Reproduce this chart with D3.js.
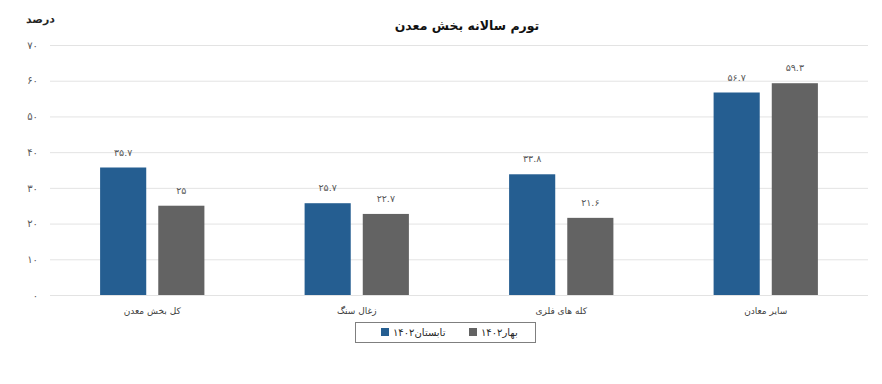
<!DOCTYPE html>
<html>
<head>
<meta charset="utf-8">
<script src="https://cdn.jsdelivr.net/npm/d3@7"></script>
<style>
  body { margin: 0; background: #fff; }
  text { font-family: "DejaVu Sans", sans-serif; }
</style>
</head>
<body>
<div id="chart"></div>
<script>
// data
var categories = ["کل بخش معدن", "زغال سنگ", "کله های فلزی", "سایر معادن"];
var seriesNames = ["تابستان۱۴۰۲", "بهار۱۴۰۲"];
var summerValues = [35.7, 25.7, 33.8, 56.7];
var springValues = [25, 22.7, 21.6, 59.3];
var yTicks = [0, 10, 20, 30, 40, 50, 60, 70];
var colors = ["#255e91", "#636363"];

function fa(n) {
  return String(n).replace(/\d/g, function(c) { return "۰۱۲۳۴۵۶۷۸۹"[+c]; });
}

var W = 882, H = 384;
var plot = { left: 50, right: 868, top: 45, bottom: 295 };

var svg = d3.select("#chart").append("svg")
    .attr("width", W)
    .attr("height", H);

var x0 = d3.scaleBand()
    .domain(categories)
    .range([plot.left, plot.right])
    .paddingInner(0.49)
    .paddingOuter(0.245);

var x1 = d3.scaleBand()
    .domain(seriesNames)
    .range([0, x0.bandwidth()])
    .paddingInner(0.2069);

var y = d3.scaleLinear()
    .domain([0, 70])
    .range([plot.bottom, plot.top]);

// gridlines
svg.append("g")
  .selectAll("line")
  .data(yTicks)
  .enter().append("line")
    .attr("x1", plot.left)
    .attr("x2", plot.right)
    .attr("y1", function(d) { return y(d) + 0.5; })
    .attr("y2", function(d) { return y(d) + 0.5; })
    .attr("stroke", "#e3e3e3")
    .attr("stroke-width", 1);

// y axis labels
var yAxis = d3.axisLeft(y).tickValues(yTicks).tickSize(0).tickPadding(0)
    .tickFormat(function(d) { return fa(d); });
var ya = svg.append("g")
    .attr("transform", "translate(38,0)")
    .call(yAxis);
ya.select(".domain").remove();
ya.selectAll("text")
    .attr("fill", "#595959")
    .style("font-size", "10px")
    .style("font-family", "DejaVu Sans");

svg.append("text")
    .attr("x", 26)
    .attr("y", 23)
    .attr("font-weight", "bold")
    .attr("font-size", "11px")
    .attr("fill", "#262626")
    .text("درصد");

// title
svg.append("text")
    .attr("x", 467)
    .attr("y", 30)
    .attr("text-anchor", "middle")
    .attr("font-weight", "bold")
    .attr("font-size", "12.5px")
    .attr("fill", "#111")
    .text("تورم سالانه بخش معدن");

var rows = categories.map(function(c, i) {
  return { cat: c, vals: [summerValues[i], springValues[i]] };
});

var groups = svg.append("g").selectAll("g")
    .data(rows)
    .enter().append("g")
    .attr("transform", function(d) { return "translate(" + x0(d.cat) + ",0)"; });

groups.selectAll("rect")
    .data(function(d) { return d.vals.map(function(v, i) { return { s: seriesNames[i], v: v, i: i }; }); })
    .enter().append("rect")
    .attr("x", function(d) { return x1(d.s); })
    .attr("y", function(d) { return y(d.v); })
    .attr("width", x1.bandwidth())
    .attr("height", function(d) { return y(0) - y(d.v); })
    .attr("fill", function(d) { return colors[d.i]; });

groups.selectAll("text.val")
    .data(function(d) { return d.vals.map(function(v, i) { return { s: seriesNames[i], v: v, i: i }; }); })
    .enter().append("text")
    .attr("class", "val")
    .attr("x", function(d) { return x1(d.s) + x1.bandwidth() / 2; })
    .attr("y", function(d) { return y(d.v) - 12; })
    .attr("text-anchor", "middle")
    .attr("font-size", "9.5px")
    .attr("fill", "#595959")
    .text(function(d) { return fa(d.v); });

// category labels
svg.append("g").selectAll("text")
    .data(categories)
    .enter().append("text")
    .attr("x", function(d) { return x0(d) + x0.bandwidth() / 2; })
    .attr("y", 314)
    .attr("text-anchor", "middle")
    .attr("font-size", "9px")
    .attr("fill", "#404040")
    .text(function(d) { return d; });

// legend
var lg = svg.append("g");
lg.append("rect")
    .attr("x", 355.5).attr("y", 322.5)
    .attr("width", 180).attr("height", 20)
    .attr("fill", "none")
    .attr("stroke", "#7f7f7f");

var legendItems = [
  { name: seriesNames[0], color: colors[0], sq: 381 },
  { name: seriesNames[1], color: colors[1], sq: 469 }
];
legendItems.forEach(function(d) {
  lg.append("rect")
    .attr("x", d.sq).attr("y", 328)
    .attr("width", 8).attr("height", 8)
    .attr("fill", d.color);
  var t = lg.append("text")
    .attr("y", 336)
    .attr("text-anchor", "middle")
    .attr("font-size", "10px")
    .attr("fill", "#262626")
    .text(d.name);
  var w = t.node().getComputedTextLength();
  t.attr("x", d.sq + 12 + w / 2);
});
</script>
</body>
</html>
